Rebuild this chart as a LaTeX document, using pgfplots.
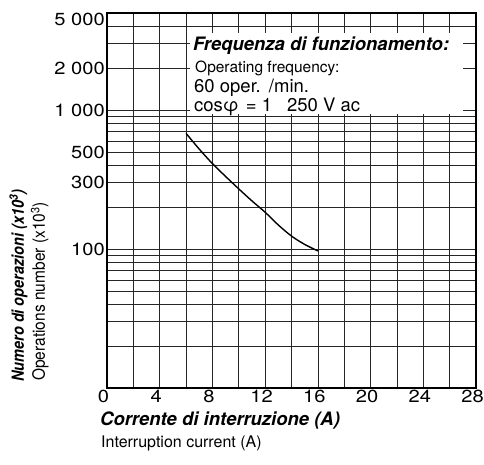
\documentclass[border=0pt]{standalone}
\usepackage{fontspec}
\setmainfont{TeX Gyre Heros}
\usepackage{graphicx}
\usepackage{pgfplots}
\pgfplotsset{compat=1.18}
\usetikzlibrary{calc}

% etichette dei tick: testo, non numeri
\newcommand{\T}[1]{\mbox{\fontsize{17.5}{17.5}\selectfont\scalebox{1.15}[1]{#1}}}

\begin{document}
\begin{tikzpicture}
  \begin{axis}[
      scale only axis,
      width=369pt, height=375pt,
      xmin=0, xmax=28,
      ymode=log, ymin=10, ymax=5000,
      xtick={0,2,...,28},
      xticklabels={\T{0},,\T{4},,\T{8},,\T{12},,\T{16},,\T{20},,\T{24},,\T{28}},
      ytick={10,20,30,40,50,60,70,80,90,100,200,300,400,500,600,700,800,900,1000,2000,3000,4000,5000},
      yticklabels={,,,,,,,,,\T{100},,\T{300},,\T{500},,,,,\T{1~000},\T{2~000},,,\raisebox{-13pt}[0pt][0pt]{\T{5~000}}},
      major tick length=0pt,
      minor tick length=0pt,
      grid=major,
      major grid style={black!85, line width=0.7pt},
      axis line style={line width=2pt},
      xticklabel style={inner sep=2pt, xshift=-3.5pt},
      yticklabel style={inner sep=2pt},
    ]
    \coordinate (bl) at (rel axis cs:0,0);
    \coordinate (tr) at (rel axis cs:1,1);
    \addplot[smooth, black, line width=1.4pt] coordinates {
        (6,680)
        (7,524)
        (8,412)
        (9,333)
        (10,271)
        (11,222)
        (12,184)
        (13,149)
        (14,124)
        (15,108)
        (16,97)
    };
  \end{axis}

  % riquadro con le condizioni di prova
  \fill[white] ($(bl)+(83pt,274pt)$) rectangle ($(bl)+(356pt,355pt)$);
  \node[anchor=base west, inner sep=0pt, font=\fontsize{18.5}{18.5}\selectfont\bfseries\itshape]
    at ($(bl)+(86pt,337pt)$) {Frequenza di funzionamento:};
  \node[anchor=base west, inner sep=0pt, font=\fontsize{15.5}{15.5}\selectfont]
    at ($(bl)+(88pt,315pt)$) {Operating frequency:};
  \node[anchor=base west, inner sep=0pt, font=\fontsize{18.5}{18.5}\selectfont]
    at ($(bl)+(87pt,295pt)$) {60 oper.\ \,/min.};
  \node[anchor=base west, inner sep=0pt, font=\fontsize{18.5}{18.5}\selectfont]
    at ($(bl)+(87pt,277pt)$) {cosφ\hspace{7pt}= 1\hspace{15pt}250 V ac};

  % etichette degli assi
  \node[xscale=1.15, rotate=90, anchor=base west, inner sep=0pt, font=\fontsize{14.5}{14.5}\selectfont\bfseries\itshape]
    at ($(bl)+(-83pt,6pt)$) {Numero di operazioni (x10\textsuperscript{3})};
  \node[xscale=1.1, rotate=90, anchor=base west, inner sep=0pt, font=\fontsize{15.5}{15.5}\selectfont]
    at ($(bl)+(-62pt,7pt)$) {Operations number (x10\textsuperscript{3})};
  \node[anchor=base west, inner sep=0pt, font=\fontsize{18.5}{18.5}\selectfont\bfseries\itshape]
    at ($(bl)+(-7pt,-37pt)$) {Corrente di interruzione (A)};
  \node[anchor=base west, inner sep=0pt, font=\fontsize{16}{16}\selectfont]
    at ($(bl)+(-6pt,-59pt)$) {Interruption current (A)};

  \pgfresetboundingbox
  \path[use as bounding box] ($(bl)+(-107pt,-76pt)$) rectangle ($(tr)+(8pt,13pt)$);
\end{tikzpicture}
\end{document}
